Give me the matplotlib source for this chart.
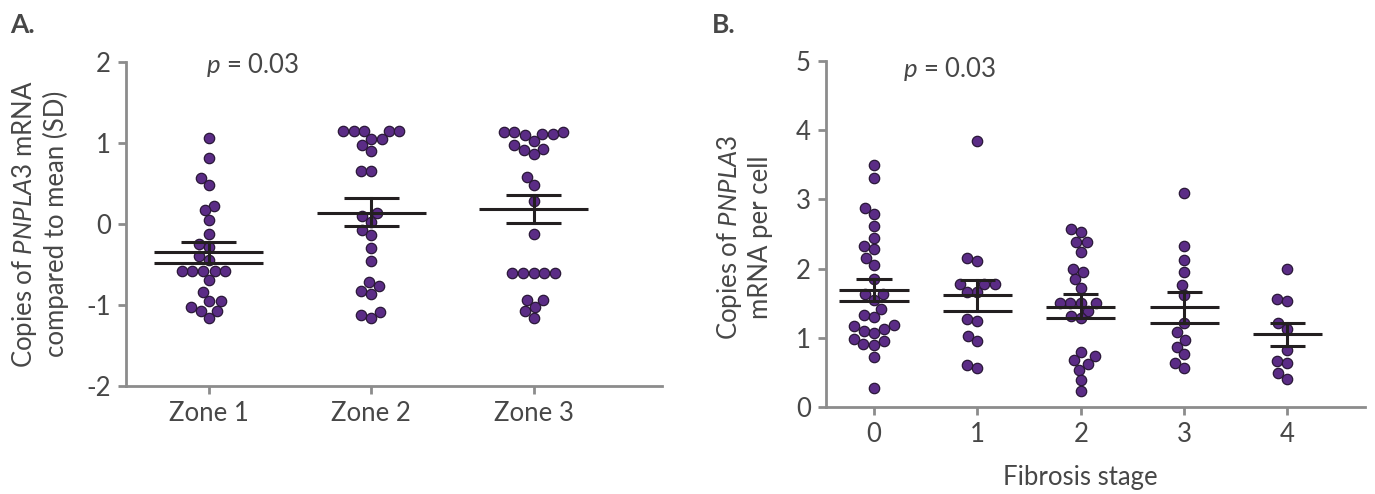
import numpy as np
import matplotlib
matplotlib.use("Agg")
import matplotlib.pyplot as plt
from matplotlib import transforms

plt.rcParams['font.family'] = ['Lato', 'DejaVu Sans']
plt.rcParams['mathtext.fontset'] = 'custom'
plt.rcParams['mathtext.rm'] = 'Lato'
plt.rcParams['mathtext.it'] = 'Lato:italic'

# ---------------- data ----------------
zone_labels = ["Zone 1", "Zone 2", "Zone 3"]
zone1 = [1.06, 0.81, 0.57, 0.48, 0.22, 0.17, 0.05, -0.12, -0.25, -0.28, -0.40, -0.45,
         -0.58, -0.58, -0.58, -0.58, -0.58, -0.69, -0.84, -0.95, -0.95, -1.03, -1.07, -1.07, -1.16]
zone2 = [1.15, 1.15, 1.15, 1.15, 1.15, 1.05, 1.05, 0.97, 0.90, 0.66, 0.66, 0.14, 0.10, 0.03,
         -0.07, -0.14, -0.30, -0.46, -0.72, -0.77, -0.83, -0.86, -1.09, -1.12, -1.16]
zone3 = [1.14, 1.11, 1.10, 1.03, 1.11, 1.13, 1.14, 0.93, 0.87, 0.91, 0.97, 0.58, 0.48, 0.28,
         -0.12, -0.60, -0.60, -0.60, -0.60, -0.60, -0.94, -0.94, -1.03, -1.08, -1.16]
zone_mean = [-0.35, 0.14, 0.18]
zone_upper = [-0.22, 0.32, 0.36]
zone_lower = [-0.48, -0.02, 0.01]

stage_labels = ["0", "1", "2", "3", "4"]
stage0 = [3.49, 3.31, 2.87, 2.79, 2.61, 2.44, 2.33, 2.28, 2.15, 2.05, 1.85, 1.64, 1.64, 1.55,
          1.42, 1.33, 1.30, 1.18, 1.17, 1.12, 1.10, 1.07, 0.98, 0.96, 0.91, 0.90, 0.72, 0.28]
stage1 = [3.85, 2.15, 2.11, 1.78, 1.78, 1.78, 1.66, 1.66, 1.27, 1.24, 1.03, 0.96, 0.60, 0.57]
stage2 = [2.57, 2.53, 2.39, 2.38, 2.24, 2.00, 1.95, 1.85, 1.72, 1.50, 1.50, 1.50, 1.50, 1.39,
          1.32, 1.28, 0.80, 0.73, 0.68, 0.62, 0.54, 0.39, 0.23]
stage3 = [3.09, 2.33, 2.12, 1.95, 1.77, 1.62, 1.22, 1.08, 0.97, 0.87, 0.76, 0.64, 0.57]
stage4 = [2.00, 1.56, 1.53, 1.21, 1.13, 0.82, 0.67, 0.64, 0.49, 0.41]
stage_mean = [1.69, 1.62, 1.44, 1.45, 1.06]
stage_upper = [1.85, 1.83, 1.63, 1.66, 1.21]
stage_lower = [1.53, 1.39, 1.29, 1.21, 0.88]

# ---------------- style ----------------
TXT = "#474747"
SPINE = "#8c8c8c"
DOT = "#5b2c86"
DOT_EDGE = "#2a1838"
LINE = "#231f20"
FS = 18.5
MS = 56  # scatter area (pt^2)

fig = plt.figure(figsize=(13.75, 4.94), dpi=100)
axA = fig.add_axes([126 / 1375, (494 - 386) / 494, (662 - 126) / 1375, (386 - 62) / 494])
axB = fig.add_axes([826 / 1375, (494 - 407) / 494, (1365 - 826) / 1375, (407 - 61) / 494])


def style_axes(ax):
    for s in ["top", "right"]:
        ax.spines[s].set_visible(False)
    for s in ["left", "bottom"]:
        ax.spines[s].set_color(SPINE)
        ax.spines[s].set_linewidth(2.0)
    ax.tick_params(axis="both", colors=SPINE, width=2.0, length=6, labelsize=FS,
                   labelcolor=TXT, pad=5)


def swarm(ax, xc, vals):
    """compute beeswarm offsets in pixel space, return data x positions"""
    fig.canvas.draw()
    d = np.sqrt(MS) * fig.dpi / 72.0 * 1.02
    vals = np.asarray(vals, float)
    pts = ax.transData.transform(np.column_stack([np.full(len(vals), xc), vals]))
    order = np.argsort(pts[:, 1])
    placed = []
    xs_pix = np.zeros(len(vals))
    cx = pts[0, 0]
    for i in order:
        y = pts[i, 1]
        near = [(px, py) for px, py in placed if abs(py - y) < d]
        cands = [cx]
        for px, py in near:
            dx = np.sqrt(max(d * d - (py - y) ** 2, 0))
            cands += [px - dx, px + dx]
        cands = sorted(cands, key=lambda c: (abs(c - cx), c))
        for c in cands:
            ok = all((c - px) ** 2 + (y - py) ** 2 >= d * d - 1e-6 for px, py in near)
            if ok:
                xs_pix[i] = c
                placed.append((c, y))
                break
    inv = ax.transData.inverted()
    out = inv.transform(np.column_stack([xs_pix, pts[:, 1]]))
    return out[:, 0]


def draw_group(ax, xc, vals, mean, up, lo, lo_long):
    xs = swarm(ax, xc, vals)
    ax.scatter(xs, vals, s=MS, facecolor=DOT, edgecolor=DOT_EDGE, linewidth=0.9,
               zorder=3, clip_on=False)
    ax.plot([xc - 0.335, xc + 0.335], [mean, mean], color=LINE, lw=2.2, zorder=4,
            solid_capstyle="butt")
    ax.plot([xc - 0.17, xc + 0.17], [up, up], color=LINE, lw=2.2, zorder=4,
            solid_capstyle="butt")
    w = 0.335 if lo_long else 0.17
    ax.plot([xc - w, xc + w], [lo, lo], color=LINE, lw=2.2, zorder=4,
            solid_capstyle="butt")
    ax.plot([xc, xc], [lo, up], color=LINE, lw=2.2, zorder=4)


# ---------------- panel A ----------------
style_axes(axA)
axA.set_xlim(-0.51, 2.79)
axA.set_ylim(-2, 2)
axA.set_yticks([-2, -1, 0, 1, 2])
axA.set_yticklabels(["-2", "-1", "0", "1", "2"])
axA.set_xticks(range(3))
axA.set_xticklabels(zone_labels)
zone_data = [zone1, zone2, zone3]
lo_long_A = [True, False, False]
for i, v in enumerate(zone_data):
    draw_group(axA, i, v, zone_mean[i], zone_upper[i], zone_lower[i], lo_long_A[i])
axA.set_ylabel("Copies of $\\mathit{PNPLA3}$ mRNA\ncompared to mean (SD)", fontsize=FS,
               color=TXT, linespacing=1.2)
axA.yaxis.set_label_coords(-0.106, 0.5)
axA.text(-0.02, 1.96, "$\\mathit{p}$ = 0.03", fontsize=FS, color=TXT, ha="left", va="center")

# ---------------- panel B ----------------
style_axes(axB)
axB.set_xlim(-0.465, 4.75)
axB.set_ylim(0, 5)
axB.set_yticks(range(6))
axB.set_xticks(range(5))
axB.set_xticklabels(stage_labels)
stage_data = [stage0, stage1, stage2, stage3, stage4]
lo_long_B = [True, True, True, True, False]
for i, v in enumerate(stage_data):
    draw_group(axB, i, v, stage_mean[i], stage_upper[i], stage_lower[i], lo_long_B[i])
axB.set_ylabel("Copies of $\\mathit{PNPLA3}$\nmRNA per cell", fontsize=FS, color=TXT,
               linespacing=1.2)
axB.yaxis.set_label_coords(-0.099, 0.49)
axB.text(0.28, 4.89, "$\\mathit{p}$ = 0.03", fontsize=FS, color=TXT, ha="left", va="center")
tr = transforms.blended_transform_factory(axB.transData, fig.transFigure)
axB.text(2, 1 - 477 / 494, "Fibrosis stage", transform=tr, fontsize=FS, color=TXT,
         ha="center", va="center")

fig.text(10 / 1375, 1 - 25 / 494, "A.", fontsize=19, color=TXT, ha="left", va="center",
         fontweight="bold")
fig.text(712 / 1375, 1 - 25 / 494, "B.", fontsize=19, color=TXT, ha="left", va="center",
         fontweight="bold")

fig.savefig("out.png", dpi=100)
